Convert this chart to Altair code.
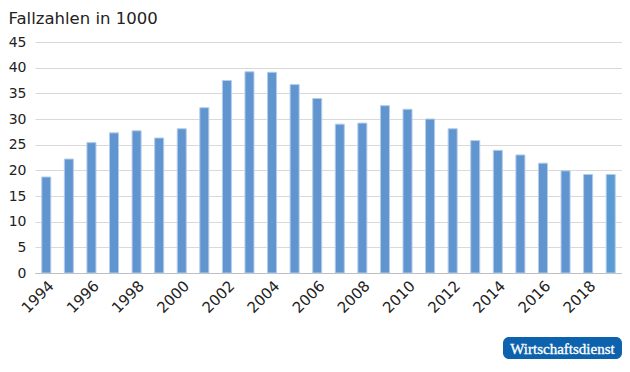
import altair as alt
import pandas as pd

years = list(range(1994, 2020))
values = [18.7, 22.2, 25.4, 27.3, 27.7, 26.3, 28.1, 32.2, 37.5, 39.2, 39.1, 36.7,
          34.0, 29.0, 29.2, 32.6, 31.9, 30.0, 28.1, 25.8, 23.9, 23.0, 21.4, 19.9,
          19.2, 19.2]
title_text = "Fallzahlen in 1000"
badge_text = "Wirtschaftsdienst"

df = pd.DataFrame({"Jahr": years, "Wert": values})

W, H = 587, 231
FONT = "DejaVu Sans"

bars = alt.Chart(df).mark_bar(
    stroke="#b4cdea", strokeWidth=1
).encode(
    x=alt.X("Jahr:O", title=None,
            scale=alt.Scale(paddingInner=0.6, paddingOuter=0.3),
            axis=alt.Axis(labelAngle=-45, labelAlign="right", labelBaseline="top",
                          labelExpr="datum.value % 2 == 0 ? datum.label : ''",
                          labelFont=FONT, labelFontSize=15, labelColor="#222222",
                          labelPadding=5, ticks=False, domainColor="#bfbfbf",
                          domainWidth=1.2, grid=False, labelOverlap=False)),
    y=alt.Y("Wert:Q", title=None,
            scale=alt.Scale(domain=[0, 45], nice=False),
            axis=alt.Axis(values=list(range(0, 50, 5)), labelFont=FONT, labelFontSize=14,
                          labelColor="#222222", labelPadding=9, ticks=False,
                          domain=False, gridColor="#d9d9d9", gridWidth=1)),
    color=alt.condition(alt.datum.Jahr == 2019, alt.value("#5b9bd5"), alt.value("#6195cf")),
)

title = alt.Chart(pd.DataFrame({"t": [title_text]})).mark_text(
    align="left", baseline="alphabetic", font=FONT, fontSize=16.5, color="#222222"
).encode(text="t:N", x=alt.value(-26.5), y=alt.value(-18.5))

badge_bg = alt.Chart(pd.DataFrame({"b": [1]})).mark_rect(
    color="#0d62ad", cornerRadius=6
).encode(x=alt.value(468), x2=alt.value(587), y=alt.value(295), y2=alt.value(317))

badge = alt.Chart(pd.DataFrame({"t": [badge_text]})).mark_text(
    align="center", baseline="middle", font="Liberation Serif", fontSize=15,
    color="white", stroke="white", strokeWidth=0.35
).encode(text="t:N", x=alt.value(527.5), y=alt.value(306.5))

chart = alt.layer(bars, title, badge_bg, badge).properties(
    width=W, height=H,
    autosize=alt.AutoSizeParams(type="none"),
    padding={"left": 27, "top": 34, "right": 0, "bottom": 88},
).configure_view(stroke=None)

chart.save("out.html", embed_options={"renderer": "svg", "actions": False})
